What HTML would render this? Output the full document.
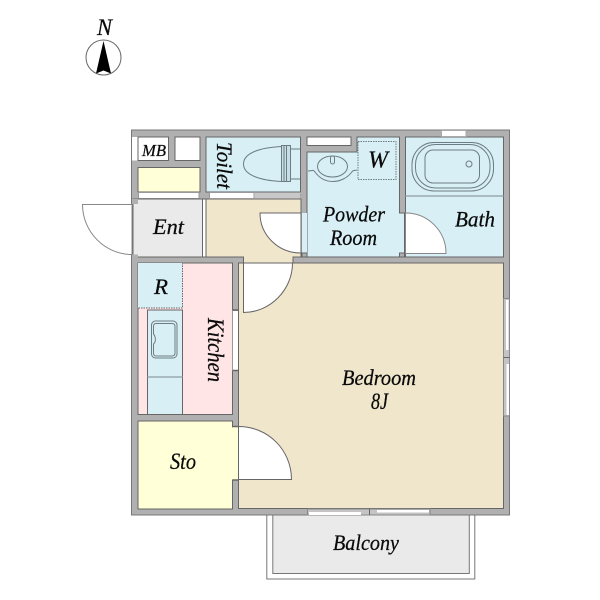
<!DOCTYPE html>
<html><head><meta charset="utf-8"><style>
html,body{margin:0;padding:0;background:#fff}
svg{display:block}
text{font-family:"Liberation Serif",serif;font-style:italic;fill:#0a0a0a;stroke:#0a0a0a;stroke-width:.25}
</style></head><body>
<svg width="600" height="600" viewBox="0 0 600 600" xmlns="http://www.w3.org/2000/svg">
<!-- balcony -->
<rect x="266.8" y="512" width="208" height="67" fill="#fff" stroke="#777" stroke-width="1"/>
<rect x="272.8" y="512" width="196.5" height="61.5" fill="#eaeaea" stroke="#777" stroke-width="1"/>
<!-- wall -->
<rect x="131.5" y="130" width="378" height="385" fill="#b0b0b0" stroke="#777" stroke-width="1"/>
<g stroke="#666" stroke-width="1">
<!-- MB etc -->
<rect x="132" y="137" width="5.5" height="23.5" fill="#fff" stroke="none"/>
<rect x="138" y="137" width="30.5" height="23.5" fill="#fff"/>
<rect x="175" y="137" width="25" height="23.5" fill="#fff"/>
<rect x="138" y="167.5" width="62" height="24.5" fill="#ffffd8"/>
<rect x="138.5" y="192.5" width="60.5" height="6" fill="#fff" stroke="#999"/>
<!-- Ent -->
<rect x="133" y="199" width="69.5" height="58" fill="#eaeaea"/>
<rect x="132" y="199" width="6" height="5" fill="#b0b0b0" stroke="none"/>
<rect x="132" y="254.5" width="6" height="3" fill="#b0b0b0" stroke="none"/>
<rect x="202.5" y="199" width="3.5" height="58" fill="#fff"/>
<!-- corridor -->
<path d="M206 199H301V257H293V263H243.5V257H206Z" fill="#f0e6cc"/>
<!-- toilet -->
<rect x="206" y="137" width="94.5" height="55" fill="#d8eff5"/>
<rect x="209.5" y="192.5" width="44.5" height="6" fill="#fff" stroke="#999"/>
<rect x="254" y="192.5" width="46.5" height="6" fill="#c8c8c8" stroke="#999" stroke-dasharray="2 1"/>
<!-- powder -->
<path d="M307 152H357V137H399.5V213H404.5V257H302V253H307V213H307Z" fill="#d8eff5"/>
<path d="M302 213H307V253H302Z" fill="#d8eff5" stroke="none"/>
<rect x="307" y="137" width="44" height="8.5" fill="#fff"/>
<!-- bath -->
<rect x="405.5" y="137" width="98" height="120" fill="#d8eff5"/>
<rect x="441.5" y="130.5" width="24.5" height="6" fill="#fff" stroke="#aaa"/>
<rect x="399.5" y="253" width="5" height="4" fill="#b0b0b0"/>
<rect x="302" y="253" width="5" height="4" fill="#b0b0b0"/>
<!-- kitchen -->
<rect x="138" y="263" width="94.5" height="151.5" fill="#ffe5e5"/>
<rect x="138" y="263" width="44.5" height="45" fill="#d8eff5" stroke="none"/>
<rect x="147.5" y="310" width="35" height="104.5" fill="#d8eff5"/>
<path d="M138.5 308H182.5V263.5" fill="none" stroke-dasharray="1.5 1"/>
<path d="M147.5 377H182.5" stroke="#9aabb0" stroke-width="1.5"/>
<rect x="232.5" y="310.5" width="6" height="60" fill="#fff" stroke="#999"/>
<path d="M232.5 310H238.5M232.5 370.5H238.5" stroke-width="1.5"/>
<!-- bedroom -->
<path d="M238.5 263H503.5V508.5H238.5Z" fill="#f0e6cc"/>
<!-- sto -->
<path d="M138 421H232.5V427H238V480H232.5V509H138Z" fill="#ffffd8"/>
<path d="M232.5 427H238.5V480H232.5" fill="#ffffd8" stroke="none"/>
<path d="M232.5 426.5H238.5M232.5 480H238.5" stroke-width="1.5"/>
<!-- windows -->
<rect x="307.5" y="509" width="122.5" height="6" fill="#c4c4c4" stroke="#888"/>
<rect x="309" y="512" width="52" height="3" fill="#fff" stroke="none"/>
<rect x="377" y="510" width="52" height="2.5" fill="#fff" stroke="none"/>
<path d="M369.5 509V515"/>
<rect x="503.5" y="298.5" width="6" height="117.5" fill="#c4c4c4" stroke="#888"/>
<rect x="506" y="300" width="2.5" height="50" fill="#fff" stroke="none"/>
<rect x="506.5" y="364" width="2.5" height="51" fill="#fff" stroke="none"/>
<path d="M503.5 357.5H509.5"/>
<!-- doors -->
<path d="M82.5 204.5H132L132 254.5C105 254.5 82.5 232 82.5 204.5Z" fill="#fff" stroke="#888"/>
<path d="M260 213H301V253C278 253 260 235 260 213Z" fill="#fff"/>
<path d="M405.5 213C428 213 446 231 446 253.5H405.5Z" fill="#fff" stroke="#888"/>
<path d="M243.5 263H292.5C292.5 290 270 312.5 243.5 312.5Z" fill="#fff"/>
<path d="M238.5 426.5C268 426.5 291.5 450 291.5 479.5H238.5Z" fill="#fff"/>
</g>
<!-- fixtures -->
<g fill="none" stroke="#6b7d82" stroke-width="1">
<path d="M243.5 164C243.5 153 260 147.5 282 146.5V181.5C260 180.5 243.5 175 243.5 164Z"/>
<rect x="281.5" y="145.5" width="9" height="36" fill="#c5dfe6"/>
<path d="M290.5 149H300M290.5 179H300M284 146V181M286.5 146V181"/>
<path d="M308 171C312 171 313 169 315 172C320 179 327 181.5 333 181.5C340 181.5 347 178 351 173C354 169 354 171 357 170"/>
<ellipse cx="332.5" cy="166.5" rx="15" ry="10.5"/>
<rect x="330.5" y="156" width="4" height="8" rx="2" fill="#d8eff5"/>
<rect x="358" y="141.5" width="38" height="38" stroke-dasharray="1.5 1"/>
<rect x="412" y="142.5" width="81.5" height="48.5" rx="22"/>
<rect x="415.5" y="144.5" width="74.5" height="43.5" rx="20"/>
<rect x="425" y="150" width="54.5" height="33" rx="8"/>
<circle cx="469" cy="164" r="3"/>
<rect x="151.5" y="321" width="25.5" height="37" rx="4"/>
<path d="M156 323.500H172C174 323.500 175 324.500 175 326.500V353C175 355 174 356 172 356H156C154.500 356 153.500 355 153.500 353V344C156 342 156 337 153.500 334V326.500C153.500 324.500 154.500 323.500 156 323.500Z"/>
<path d="M405.5 196H503.5" stroke="#9aabb0" stroke-width="1.5"/>
</g>
<!-- compass -->
<circle cx="103.5" cy="57.500" r="17.5" fill="#fff" stroke="#666"/>
<path d="M103.5 41L111 73.5L103.5 70.500L96 73.500Z" fill="#000"/>
<!-- labels -->
<text x="97" y="35" font-size="23" textLength="15" lengthAdjust="spacingAndGlyphs">N</text>
<text x="142" y="156" font-size="17" textLength="24" lengthAdjust="spacingAndGlyphs">MB</text>
<text x="153" y="234" font-size="22" textLength="31" lengthAdjust="spacingAndGlyphs">Ent</text>
<text transform="translate(217 142) rotate(90)" font-size="22" textLength="47" lengthAdjust="spacingAndGlyphs">Toilet</text>
<text x="368" y="167.5" font-size="24" textLength="20" lengthAdjust="spacingAndGlyphs">W</text>
<text x="323" y="221.500" font-size="22" textLength="62" lengthAdjust="spacingAndGlyphs">Powder</text>
<text x="330" y="245" font-size="22" textLength="47" lengthAdjust="spacingAndGlyphs">Room</text>
<text x="455" y="226.500" font-size="22" textLength="40" lengthAdjust="spacingAndGlyphs">Bath</text>
<text x="154" y="294" font-size="22" textLength="14" lengthAdjust="spacingAndGlyphs">R</text>
<text transform="translate(208 318) rotate(90)" font-size="23" textLength="64" lengthAdjust="spacingAndGlyphs">Kitchen</text>
<text x="342" y="385" font-size="22" textLength="74" lengthAdjust="spacingAndGlyphs">Bedroom</text>
<text x="371" y="409" font-size="23" textLength="17" lengthAdjust="spacingAndGlyphs">8J</text>
<text x="170" y="469" font-size="23" textLength="26" lengthAdjust="spacingAndGlyphs">Sto</text>
<text x="333" y="550" font-size="22" textLength="66" lengthAdjust="spacingAndGlyphs">Balcony</text>
</svg>
</body></html>
